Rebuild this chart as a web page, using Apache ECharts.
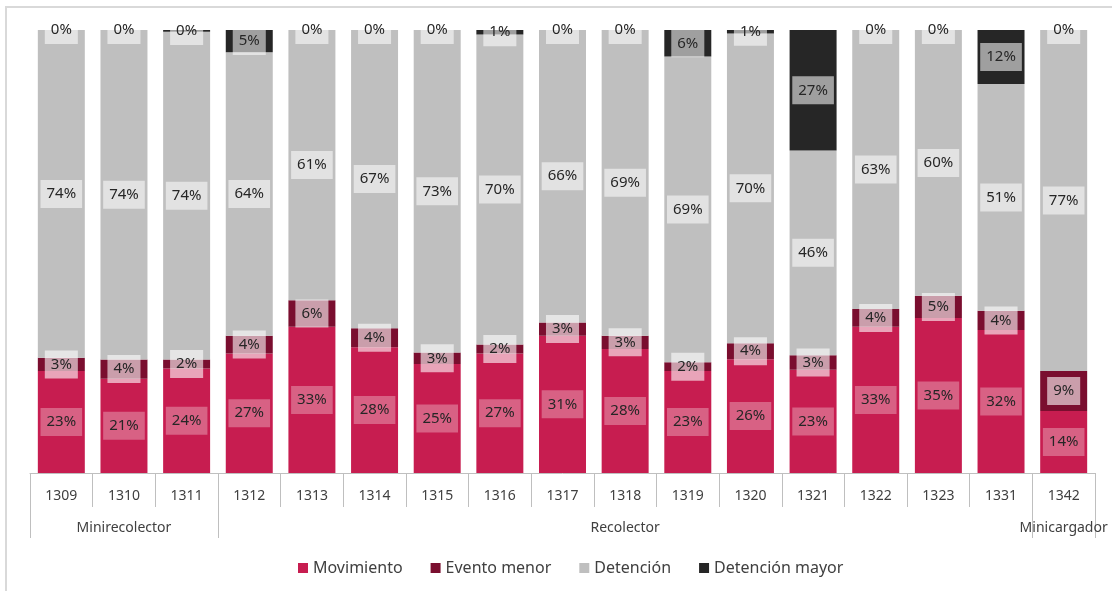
<!DOCTYPE html>
<html>
<head>
<meta charset="utf-8">
<title>Distribución de estados por equipo</title>
<script src="https://cdn.jsdelivr.net/npm/echarts@6/dist/echarts.min.js"></script>
<style>
html, body {
  margin: 0;
  padding: 0;
  background-color: #fff;
}
#chart {
  width: 1112px;
  height: 591px;
}
</style>
</head>
<body>
<div id="chart"></div>
<script>
// equipos (primer nivel del eje) y su tipo (segundo nivel)
var equipos = ['1309', '1310', '1311', '1312', '1313', '1314', '1315', '1316', '1317',
  '1318', '1319', '1320', '1321', '1322', '1323', '1331', '1342'];
var tipos = ['', 'Minirecolector', '', '', '', '', '', '', '',
  'Recolector', '', '', '', '', '', '', 'Minicargador'];
// índice donde empieza cada tipo de equipo
var inicioTipos = [0, 3, 16];

// % del tiempo en cada estado
var movimiento = [23, 21.3, 23.6, 27, 33, 28.4, 24.6, 27, 31, 28, 23, 25.7, 23.3, 33, 35, 32.3, 14];
var eventoMenor = [3, 4.3, 2.0, 4, 6, 4.3, 2.6, 2, 3, 3, 2, 3.6, 3.3, 4, 5, 4.3, 9];
var detencion = [74, 74.4, 74.0, 64, 61, 67.3, 72.8, 70, 66, 69, 69, 69.9, 46.2, 63, 60, 51.2, 77];
var detencionMayor = [0, 0, 0.4, 5, 0, 0, 0, 1, 0, 0, 6, 0.8, 27.2, 0, 0, 12.2, 0];

var fuente = 'Noto Sans';
var colorTexto = '#404040';
var colorEje = '#bfbfbf';

function etiqueta(fondo) {
  return {
    show: true,
    position: 'inside',
    color: '#262626',
    fontFamily: fuente,
    fontSize: 15,
    backgroundColor: fondo,
    padding: [7, 6, 6, 6],
    formatter: function (params) {
      return Math.round(params.value) + '%';
    }
  };
}

function serie(nombre, datos, color, fondo) {
  return {
    name: nombre,
    type: 'bar',
    stack: 'total',
    xAxisIndex: 0,
    barCategoryGap: '25%',
    data: datos,
    itemStyle: { color: color },
    label: etiqueta(fondo),
    emphasis: { disabled: true }
  };
}

var option = {
  animation: false,
  backgroundColor: '#fff',
  textStyle: { fontFamily: fuente },
  graphic: [
    {
      // borde del gráfico
      type: 'rect',
      silent: true,
      shape: { x: 6, y: 7, width: 1200, height: 700 },
      style: { fill: 'none', stroke: '#d9d9d9', lineWidth: 2 }
    }
  ],
  grid: {
    left: 30,
    right: 17,
    top: 30,
    bottom: 118,
    containLabel: false
  },
  legend: {
    top: 555,
    left: 293,
    icon: 'rect',
    itemWidth: 10,
    itemHeight: 10,
    itemGap: 28,
    textStyle: { color: colorTexto, fontSize: 16, fontFamily: fuente },
    data: ['Movimiento', 'Evento menor', 'Detención', 'Detención mayor']
  },
  xAxis: [
    {
      type: 'category',
      data: equipos,
      position: 'bottom',
      axisLine: { show: true, lineStyle: { color: colorEje, width: 1 } },
      axisTick: { show: true, length: 34, lineStyle: { color: colorEje, width: 1 } },
      axisLabel: { color: colorTexto, fontSize: 14, margin: 16, interval: 0 }
    },
    {
      // segundo nivel: tipo de equipo
      type: 'category',
      data: tipos,
      position: 'bottom',
      offset: 34,
      axisLine: { show: false },
      axisTick: {
        show: true,
        length: 31,
        lineStyle: { color: colorEje, width: 1 },
        interval: function (index) {
          return inicioTipos.indexOf(index) >= 0;
        }
      },
      axisLabel: { color: colorTexto, fontSize: 14, margin: 14, interval: 0 }
    }
  ],
  yAxis: {
    type: 'value',
    min: 0,
    max: 100,
    show: false,
    splitLine: { show: false }
  },
  series: [
    serie('Movimiento', movimiento, '#c71d50', 'rgba(255,255,255,0.3)'),
    serie('Evento menor', eventoMenor, '#7a0e2f', 'rgba(255,255,255,0.6)'),
    serie('Detención', detencion, '#bfbfbf', 'rgba(255,255,255,0.55)'),
    serie('Detención mayor', detencionMayor, '#262626', 'rgba(255,255,255,0.56)')
  ]
};

var myChart = echarts.init(document.getElementById('chart'));
myChart.setOption(option);
</script>
</body>
</html>
